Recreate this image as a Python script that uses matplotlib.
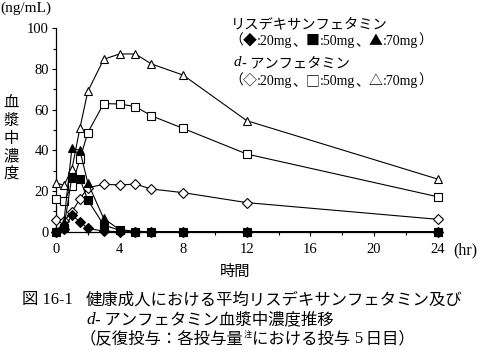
import matplotlib
matplotlib.use("Agg")
import matplotlib.pyplot as plt
from matplotlib.ticker import MultipleLocator

plt.rcParams['font.family'] = ['Liberation Serif', 'Noto Sans CJK JP', 'DejaVu Sans']

hours = [0, 0.5, 1, 1.5, 2, 3, 4, 5, 6, 8, 12, 24]
lis_20 = [0, 1.5, 8, 5, 1.6, 0.3, 0, 0, 0, 0, 0, 0]
lis_50 = [0, 2, 27, 26, 15.6, 3.3, 0.7, 0, 0, 0, 0, 0]
lis_70 = [0, 5, 41, 40, 24, 6.5, 1, 0.2, 0, 0, 0, 0]
amp_20 = [5.7, 5.2, 9.8, 16, 21.6, 23.3, 23, 23.4, 21, 19.2, 14.3, 6.1]
amp_50 = [16, 15, 22.5, 35.6, 48.7, 63, 62.8, 61.5, 57, 50.8, 38.2, 17.2]
amp_70 = [24, 22.8, 30.8, 50.8, 69, 84.8, 87.4, 87.4, 82.5, 77, 54.6, 25.9]

x_ticks = [0, 4, 8, 12, 16, 20, 24]
y_ticks = [0, 20, 40, 60, 80, 100]

fig = plt.figure(figsize=(4.82, 3.5), dpi=100)
ax = fig.add_axes([0.1162, 0.338, 0.7915, 0.581])

lw = 0.8
series = [
    (amp_70, '^', 'white', 6.0),
    (amp_50, 's', 'white', 5.3),
    (amp_20, 'D', 'white', 4.8),
    (lis_70, '^', 'black', 6.0),
    (lis_50, 's', 'black', 5.3),
    (lis_20, 'D', 'black', 4.8),
]
for vals, m, fc, ms in series:
    ax.plot(hours, vals, color='black', lw=lw, marker=m, markerfacecolor=fc,
            markeredgecolor='black', markeredgewidth=0.8, markersize=ms,
            clip_on=False, zorder=3)

ax.set_xlim(0, 24)
ax.set_ylim(0, 100)
ax.set_xticks(x_ticks)
ax.set_yticks(y_ticks)
ax.xaxis.set_minor_locator(MultipleLocator(2))
ax.yaxis.set_minor_locator(MultipleLocator(10))
ax.tick_params(axis='both', which='major', direction='out', length=3, width=0.8,
               labelsize=10.5)
ax.tick_params(axis='both', which='minor', direction='out', length=2, width=0.8)
ax.tick_params(axis='x', pad=5)
ax.tick_params(axis='y', pad=2)
for s in ['top', 'right']:
    ax.spines[s].set_visible(False)
for s in ['left', 'bottom']:
    ax.spines[s].set_linewidth(0.9)

SERIF = ['Liberation Serif', 'Noto Sans CJK JP', 'DejaVu Sans']
CJK = ['Noto Sans CJK JP', 'DejaVu Sans']


def px(x, y):
    return (x / 482.0, 1 - y / 350.0)


def chain(x, y, pieces, size):
    """pieces: list of (text, family, style, size_factor, dy_points)"""
    txt, fam, sty, f, dy = pieces[0]
    prev = fig.text(*px(x, y), txt, family=fam, style=sty, fontsize=size * f,
                    va='center', ha='left')
    for txt, fam, sty, f, dy in pieces[1:]:
        prev = plt.annotate(
            txt, xy=(1, 0.5), xycoords=prev, xytext=(0, dy),
            textcoords='offset points', family=fam, style=sty,
            fontsize=size * f, va='center', ha='left', annotation_clip=False)
    return prev


fig.text(*px(0, 8), '(ng/mL)', fontsize=11, va='center', ha='left')
fig.text(*px(11, 138), '血\n漿\n中\n濃\n度', fontsize=11, va='center', ha='center',
         family=CJK, linespacing=1.05)
fig.text(*px(453, 250), '(hr)', fontsize=11.5, va='center', ha='left')
fig.text(*px(235, 271), '時間', fontsize=11, va='center', ha='center', family=CJK)

# legend text
fig.text(*px(231, 24), 'リスデキサンフェタミン', fontsize=10.3, va='center', ha='left',
         family=CJK)
chain(229, 41, [('（', CJK, 'normal', 1, 0), ('◆', CJK, 'normal', 1, 0),
                (':20mg', SERIF, 'normal', 1, 0), ('、', CJK, 'normal', 1, 0),
                ('■', CJK, 'normal', 1, 0), (':50mg', SERIF, 'normal', 1, 0),
                ('、', CJK, 'normal', 1, 0), ('▲', CJK, 'normal', 1, 0),
                (':70mg', SERIF, 'normal', 1, 0), ('）', CJK, 'normal', 1, 0)], 10)
chain(234, 63, [('d', ['Liberation Serif'], 'italic', 1.05, 0),
                ('- アンフェタミン', CJK, 'normal', 1, 0)], 10.3)
chain(229, 81, [('（', CJK, 'normal', 1, 0), ('◇', CJK, 'normal', 1, 0),
                (':20mg', SERIF, 'normal', 1, 0), ('、', CJK, 'normal', 1, 0),
                ('□', CJK, 'normal', 1, 0), (':50mg', SERIF, 'normal', 1, 0),
                ('、', CJK, 'normal', 1, 0), ('△', CJK, 'normal', 1, 0),
                (':70mg', SERIF, 'normal', 1, 0), ('）', CJK, 'normal', 1, 0)], 10)

# caption
fig.text(*px(22, 300), '図 16-1', fontsize=11.8, va='center', ha='left', family=SERIF)
fig.text(*px(86, 300), '健康成人における平均リスデキサンフェタミン及び', fontsize=11.8,
         va='center', ha='left', family=CJK)
chain(86, 320, [('d', ['Liberation Serif'], 'italic', 1.05, 0),
                ('- アンフェタミン血漿中濃度推移', CJK, 'normal', 1, 0)], 11.8)
chain(80, 339, [('（反復投与：各投与量', SERIF, 'normal', 1, 0),
                ('注', CJK, 'normal', 0.5, 3),
                ('における投与 ', CJK, 'normal', 1, -3),
                ('5', SERIF, 'normal', 1, 0),
                (' 日目）', CJK, 'normal', 1, 0)], 11.8)

fig.savefig('out.png', dpi=100)
